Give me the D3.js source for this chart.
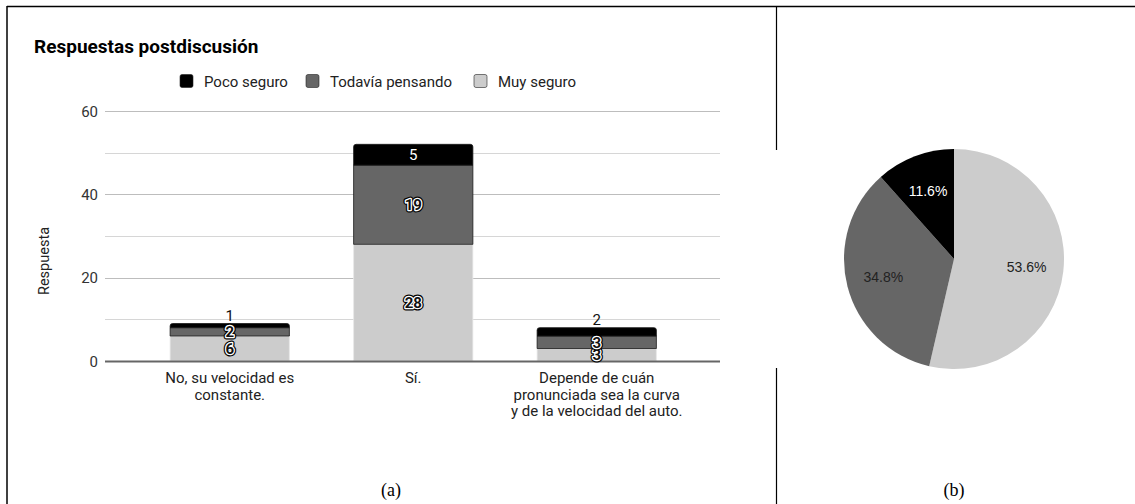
<!DOCTYPE html>
<html>
<head>
<meta charset="utf-8">
<script src="https://cdn.jsdelivr.net/npm/d3@7"></script>
<style>
  html, body { margin: 0; padding: 0; background: #fff; }
  svg { display: block; }
</style>
</head>
<body>
<svg id="fig" width="1135" height="504"></svg>
<script>
// Categories and stacked counts
const categories = [
  "No, su velocidad es\nconstante.",
  "Sí.",
  "Depende de cuán\npronunciada sea la curva\ny de la velocidad del auto."
];
const seriesNames = ["Muy seguro", "Todavía pensando", "Poco seguro"];
const muySeguro = [6, 28, 3];
const todaviaPensando = [2, 19, 3];
const pocoSeguro = [1, 5, 2];
const yTicks = [0, 20, 40, 60];
const yGrid = [10, 30, 50];
const legendOrder = ["Poco seguro", "Todavía pensando", "Muy seguro"];
const seriesColors = ["#cccccc", "#666666", "#000000"];

const svg = d3.select("#fig");

// Frame lines
svg.append("line").attr("x1", 7).attr("x2", 1135).attr("y1", 6.5).attr("y2", 6.5)
  .attr("stroke", "#000").attr("stroke-width", 1.5);
svg.append("line").attr("x1", 7).attr("x2", 7).attr("y1", 6).attr("y2", 504)
  .attr("stroke", "#000").attr("stroke-width", 1.5);
svg.append("line").attr("x1", 776.5).attr("x2", 776.5).attr("y1", 6).attr("y2", 504)
  .attr("stroke", "#000").attr("stroke-width", 1.2);

// ---------- (a) stacked bar chart ----------
const font = "Roboto, 'Noto Sans', sans-serif";
const g = svg.append("g");

g.append("text").attr("x", 34).attr("y", 53)
  .attr("font-family", font).attr("font-weight", 700).attr("font-size", 19)
  .attr("fill", "#000").text("Respuestas postdiscusión");

const y = d3.scaleLinear().domain([0, 60]).range([361, 111]);
const x = d3.scaleBand().domain(d3.range(categories.length))
  .range([138, 688.5]).paddingInner(0.35).paddingOuter(0.175);

const color = d3.scaleOrdinal().domain(seriesNames).range(seriesColors);

// Gridlines
g.append("g").selectAll("line").data(yGrid).join("line")
  .attr("x1", 105).attr("x2", 720)
  .attr("y1", d => Math.round(y(d)) + 0.5).attr("y2", d => Math.round(y(d)) + 0.5)
  .attr("stroke", "#d6d6d6").attr("stroke-width", 1);
g.append("g").selectAll("line").data(yTicks.filter(d => d !== 0)).join("line")
  .attr("x1", 105).attr("x2", 720)
  .attr("y1", d => Math.round(y(d)) + 0.5).attr("y2", d => Math.round(y(d)) + 0.5)
  .attr("stroke", "#bdbdbd").attr("stroke-width", 1);

// Y axis tick labels
const yAxis = d3.axisLeft(y).tickValues(yTicks).tickSize(0).tickPadding(0);
const ya = g.append("g").attr("transform", "translate(98,0)").call(yAxis);
ya.select(".domain").remove();
ya.selectAll("text").attr("font-family", font).attr("font-size", 15).attr("fill", "#333")
  .attr("dy", "0.35em");

g.append("text")
  .attr("transform", "translate(49,261) rotate(-90)")
  .attr("text-anchor", "middle")
  .attr("font-family", font).attr("font-size", 14.5).attr("fill", "#222")
  .text("Respuesta");

// Stack the series
const rows = categories.map((c, i) => ({
  i,
  "Muy seguro": muySeguro[i],
  "Todavía pensando": todaviaPensando[i],
  "Poco seguro": pocoSeguro[i]
}));
const stacked = d3.stack().keys(seriesNames)(rows);

const bars = g.append("g");
stacked.forEach((layer, li) => {
  bars.append("g").selectAll("path").data(layer).join("path")
    .attr("d", d => {
      const x0 = x(d.data.i), w = x.bandwidth();
      const yTop = y(d[1]), yBot = y(d[0]);
      const r = li === stacked.length - 1 ? 2.5 : 0;
      const p = d3.path();
      p.moveTo(x0, yBot);
      p.lineTo(x0, yTop + r);
      if (r) p.quadraticCurveTo(x0, yTop, x0 + r, yTop);
      p.lineTo(x0 + w - r, yTop);
      if (r) p.quadraticCurveTo(x0 + w, yTop, x0 + w, yTop + r);
      p.lineTo(x0 + w, yBot);
      p.closePath();
      return p.toString();
    })
    .attr("fill", color(layer.key))
    .attr("stroke", li === 0 ? "#e8e8e8" : "#1a1a1a")
    .attr("stroke-width", 0.8);
});

// Baseline
g.append("line").attr("x1", 105).attr("x2", 720)
  .attr("y1", y(0) + 0.5).attr("y2", y(0) + 0.5)
  .attr("stroke", "#666").attr("stroke-width", 2);

// Value labels
const labels = g.append("g").attr("font-family", font).attr("text-anchor", "middle");
stacked.forEach((layer, li) => {
  layer.forEach(d => {
    const v = d[1] - d[0];
    const cx = x(d.data.i) + x.bandwidth() / 2;
    const h = y(d[0]) - y(d[1]);
    if (li === 2) {
      if (h >= 12) {
        labels.append("text").attr("x", cx).attr("y", (y(d[0]) + y(d[1])) / 2)
          .attr("dy", "0.36em").attr("font-size", 15).attr("fill", "#fff").text(v);
      } else {
        labels.append("text").attr("x", cx).attr("y", y(d[1]) - 3)
          .attr("font-size", 15).attr("fill", "#111").text(v);
      }
    } else {
      const cy = (y(d[0]) + y(d[1])) / 2;
      [["#000", 5], ["#fff", 2.6]].forEach(([s, w]) => {
        labels.append("text").attr("x", cx).attr("y", cy).attr("dy", "0.36em")
          .attr("font-size", 15).attr("font-weight", 700)
          .attr("fill", "none").attr("stroke", s).attr("stroke-width", w)
          .attr("stroke-linejoin", "round").text(v);
      });
      labels.append("text").attr("x", cx).attr("y", cy).attr("dy", "0.36em")
        .attr("font-size", 15).attr("font-weight", 700).attr("fill", "#111").text(v);
    }
  });
});

// Category labels
const xl = g.append("g").attr("font-family", font).attr("font-size", 15)
  .attr("fill", "#222").attr("text-anchor", "middle");
categories.forEach((c, i) => {
  const t = xl.append("text").attr("x", x(i) + x.bandwidth() / 2).attr("y", 383);
  c.split("\n").forEach((line, k) => {
    t.append("tspan").attr("x", x(i) + x.bandwidth() / 2).attr("dy", k === 0 ? 0 : 16.5).text(line);
  });
});

// Legend
const legendX = [180, 306, 474];
const lg = g.append("g").attr("font-family", font).attr("font-size", 15).attr("fill", "#222");
legendOrder.forEach((name, k) => {
  lg.append("rect").attr("x", legendX[k]).attr("y", 74.5).attr("width", 13).attr("height", 13)
    .attr("rx", 2).attr("fill", color(name)).attr("stroke", "#222").attr("stroke-width", 0.6);
  lg.append("text").attr("x", legendX[k] + 24).attr("y", 86.5).text(name);
});

// ---------- (b) pie chart of totals ----------
const totals = seriesNames.map(s => ({
  name: s,
  value: d3.sum(rows, r => r[s])
}));
const grand = d3.sum(totals, d => d.value);
const pieCx = 954, pieCy = 259, R = 110;

svg.append("rect").attr("x", 770).attr("y", 150).attr("width", 365).attr("height", 218).attr("fill", "#fff");

const pg = svg.append("g").attr("transform", `translate(${pieCx},${pieCy})`);
const pie = d3.pie().value(d => d.value).sort(null);
const arc = d3.arc().innerRadius(0).outerRadius(R);
const labelArc = d3.arc().innerRadius(73).outerRadius(73);
const arcs = pie(totals);
pg.selectAll("path").data(arcs).join("path")
  .attr("d", arc).attr("fill", d => color(d.data.name));
pg.selectAll("text").data(arcs).join("text")
  .attr("transform", d => `translate(${labelArc.centroid(d)})`)
  .attr("text-anchor", "middle").attr("dy", "0.36em")
  .attr("font-family", "'Liberation Sans', Arial, sans-serif").attr("font-size", 14)
  .attr("fill", d => d.data.name === "Poco seguro" ? "#fff" : "#222")
  .text(d => (d.data.value / grand * 100).toFixed(1) + "%");

// Captions
const cap = svg.append("g").attr("font-family", "'Liberation Serif', 'Times New Roman', serif")
  .attr("font-size", 18).attr("fill", "#000").attr("text-anchor", "middle");
cap.append("text").attr("x", 391).attr("y", 496).text("(a)");
cap.append("text").attr("x", 954).attr("y", 496).text("(b)");
</script>
</body>
</html>
